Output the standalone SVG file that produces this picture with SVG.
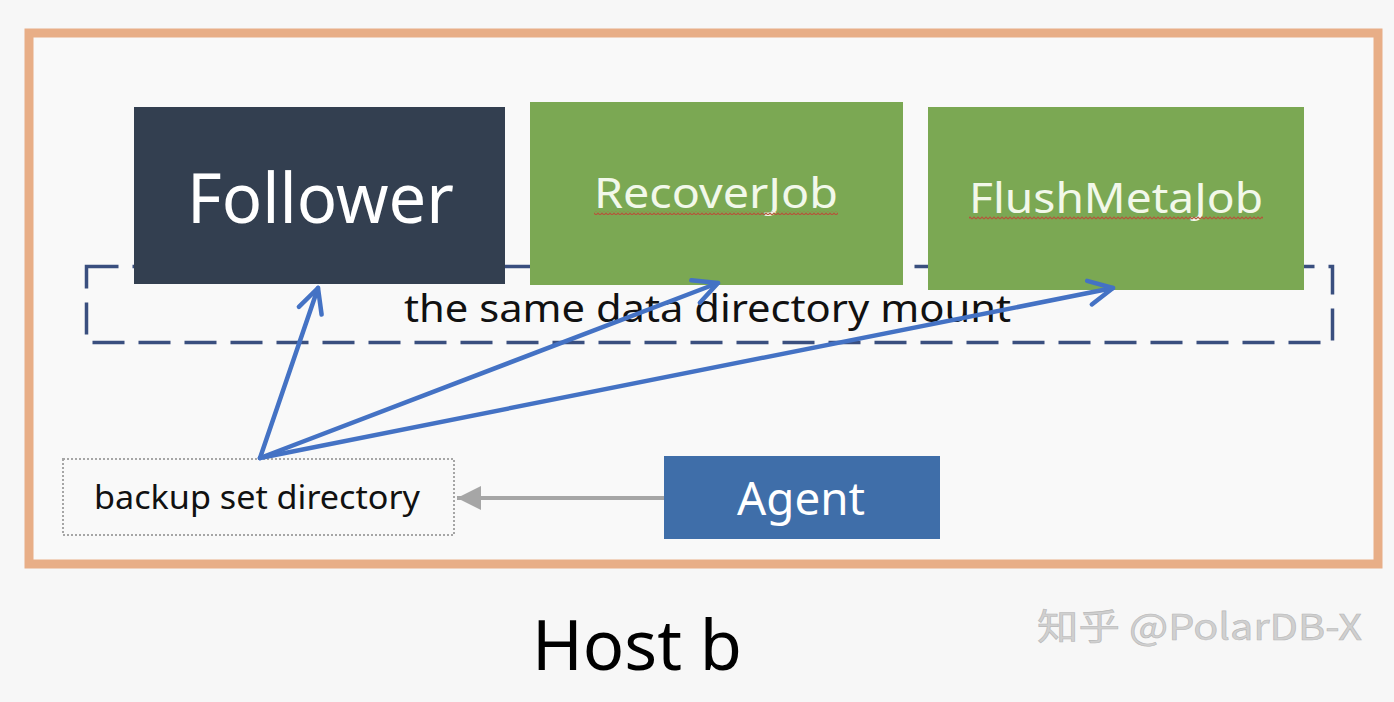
<svg xmlns="http://www.w3.org/2000/svg" width="1394" height="702" viewBox="0 0 1394 702">
  <defs>
    <style>
      .lbl { font-family: "Noto Sans", "Liberation Sans", sans-serif; }
      .white { fill: #FFFFFF; }
      .pale { fill: #F2F8EA; }
      .blk { fill: #111111; }
      .blue { stroke: #4472C4; stroke-width: 4.5; fill: none; stroke-linecap: round; }
    </style>
    <pattern id="wave" patternUnits="userSpaceOnUse" x="0" y="0" width="4" height="4">
      <path d="M0,3 L2,1 L4,3" fill="none" stroke="#B5553A" stroke-width="1.2"/>
    </pattern>
    <marker id="chev" markerUnits="userSpaceOnUse" markerWidth="34" markerHeight="34" refX="27" refY="15" orient="auto">
      <path d="M3,3 L27,15 L3,27" fill="none" stroke="#4472C4" stroke-width="4.5" stroke-linecap="round" stroke-linejoin="round"/>
    </marker>
    <marker id="grayTri" markerUnits="userSpaceOnUse" markerWidth="30" markerHeight="30" refX="25" refY="13" orient="auto">
      <path d="M1,1 L25,13 L1,25 Z" fill="#A6A6A6"/>
    </marker>
  </defs>

  <rect x="0" y="0" width="1394" height="702" fill="#F7F7F7"/>

  <g id="host-frame">
    <rect x="29" y="33" width="1349" height="531" fill="#F9F9F9" stroke="#E8AE87" stroke-width="9"/>
  </g>

  <g id="mount-area">
    <rect x="86.5" y="266.5" width="1246" height="76" fill="none" stroke="#3A4F7F" stroke-width="3.5" stroke-dasharray="32 14"/>
    <text class="lbl blk" x="404" y="322" font-size="38" textLength="607" lengthAdjust="spacingAndGlyphs">the same data directory mount</text>
  </g>

  <g id="follower">
    <rect x="134" y="107" width="371" height="177" fill="#333F50"/>
    <text class="lbl white" x="187" y="223" font-size="70" textLength="267" lengthAdjust="spacingAndGlyphs">Follower</text>
  </g>

  <g id="recoverjob">
    <rect x="530" y="102" width="373" height="183" fill="#7BA853"/>
    <text class="lbl pale" x="594" y="208" font-size="42" textLength="244" lengthAdjust="spacingAndGlyphs">RecoverJob</text>
    <rect x="594" y="211" width="244" height="4" fill="url(#wave)"/>
  </g>

  <g id="flushmetajob">
    <rect x="928" y="107" width="376" height="183" fill="#7BA853"/>
    <text class="lbl pale" x="969" y="213" font-size="42" textLength="294" lengthAdjust="spacingAndGlyphs">FlushMetaJob</text>
    <rect x="969" y="216" width="294" height="4" fill="url(#wave)"/>
  </g>

  <g id="backup-set-directory">
    <rect x="63" y="459" width="391" height="76" fill="none" stroke="#A6A6A6" stroke-width="2" stroke-dasharray="2 2"/>
    <text class="lbl blk" x="94" y="509" font-size="32" textLength="326" lengthAdjust="spacingAndGlyphs">backup set directory</text>
  </g>

  <g id="agent">
    <rect x="664" y="456" width="276" height="83" fill="#3F6EA9"/>
    <text class="lbl white" x="737" y="515" font-size="46" textLength="128" lengthAdjust="spacingAndGlyphs">Agent</text>
  </g>

  <g id="connectors">
    <line class="blue" x1="260" y1="458" x2="318" y2="288" marker-end="url(#chev)"/>
    <line class="blue" x1="260" y1="458" x2="718" y2="283" marker-end="url(#chev)"/>
    <line class="blue" x1="260" y1="458" x2="1113" y2="288" marker-end="url(#chev)"/>
    <line x1="664" y1="498" x2="457" y2="498" stroke="#A6A6A6" stroke-width="4" marker-end="url(#grayTri)"/>
  </g>

  <g id="titles">
    <text class="lbl" x="532" y="670" font-size="70" fill="#000000" textLength="210" lengthAdjust="spacingAndGlyphs">Host b</text>
    <text x="1037" y="640" font-size="36" fill="#D0D0D0" stroke="#B8B8B8" stroke-width="0.6" font-family="Noto Sans CJK SC, Noto Sans, sans-serif" textLength="325" lengthAdjust="spacingAndGlyphs">知乎 @PolarDB-X</text>
  </g>
</svg>
